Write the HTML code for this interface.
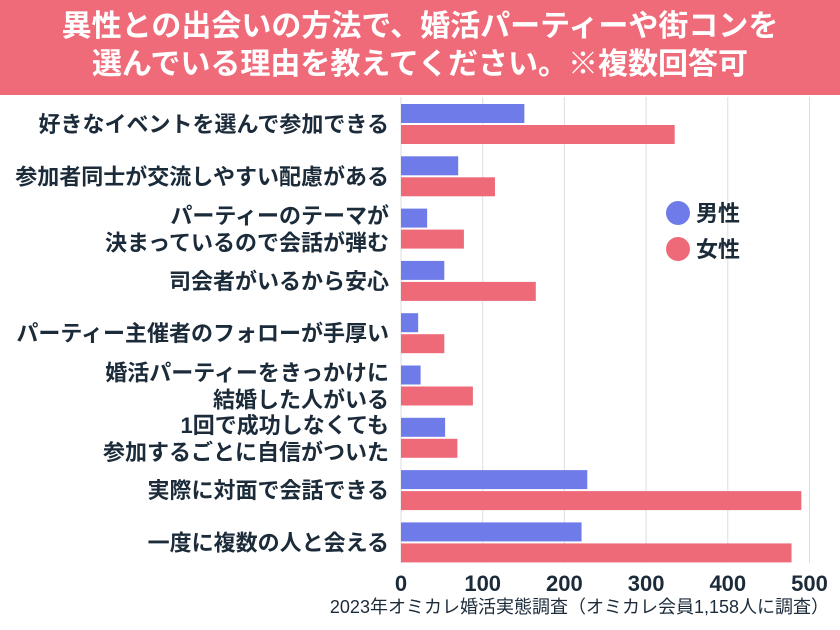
<!DOCTYPE html>
<html><head><meta charset="utf-8"><style>
body{margin:0;width:840px;height:630px;background:#fff;font-family:"Liberation Sans","Noto Sans CJK JP",sans-serif;overflow:hidden}
#title{position:absolute;left:0;top:0;width:840px;height:95px;background:#f06b79;color:#fff;font-weight:bold;font-size:30px;line-height:38px;text-align:center;padding-top:8px;box-sizing:border-box;white-space:nowrap}
svg{position:absolute;left:0;top:0}
</style></head><body>
<div id="title">異性との出会いの方法で、婚活パーティーや街コンを<br>選んでいる理由を教えてください。※複数回答可</div>
<svg id="c" width="840" height="630"></svg>
<script>
const categories=[["好きなイベントを選んで参加できる"],["参加者同士が交流しやすい配慮がある"],["パーティーのテーマが","決まっているので会話が弾む"],["司会者がいるから安心"],["パーティー主催者のフォローが手厚い"],["婚活パーティーをきっかけに","結婚した人がいる"],["1回で成功しなくても","参加するごとに自信がついた"],["実際に対面で会話できる"],["一度に複数の人と会える"]];
const male=[151,70,32,53,21,24,54,228,221];
const female=[335,115,77,165,53,88,69,490,478];
const ticks=[0,100,200,300,400,500];
const NS="http://www.w3.org/2000/svg",svg=document.getElementById('c');
const x=v=>401+v*0.817;
const rowY=i=>104+i*52.3;
function mk(t,a,txt){const e=document.createElementNS(NS,t);for(const k in a)e.setAttribute(k,a[k]);if(txt!=null)e.textContent=txt;svg.appendChild(e);return e;}
ticks.forEach(t=>{
const g=mk('line',{x1:x(t),x2:x(t),y1:97,y2:563,stroke:'#dcdde3','stroke-width':1});


const l=mk('text',{x:x(t),y:591,'text-anchor':'middle','font-size':22,'font-weight':'bold',fill:'#1c2b3a'},t);


});
categories.forEach((c,i)=>{
const y=rowY(i);
const m=mk('rect',{x:x(0),y:y,width:x(male[i])-x(0),height:19,fill:'#6e7be8'});


const f=mk('rect',{x:x(0),y:y+21,width:x(female[i])-x(0),height:19,fill:'#ef6a79'});


const cy=y+20;
c.forEach((line,j)=>{
const ty=c.length==1?cy+8:cy-5+j*27;
const t=mk('text',{x:389,y:ty,'text-anchor':'end','font-size':22,'font-weight':'bold',fill:'#1c2b3a'},line);


});
});
const l1=mk('circle',{cx:678,cy:213,r:12,fill:'#6e7be8'});
const t1=mk('text',{x:696,y:221,'font-size':22,'font-weight':'bold',fill:'#1c2b3a'},'男性');
const l2=mk('circle',{cx:678,cy:249,r:12,fill:'#ef6a79'});
const t2=mk('text',{x:696,y:257,'font-size':22,'font-weight':'bold',fill:'#1c2b3a'},'女性');
const s=mk('text',{x:829,y:613,'text-anchor':'end','font-size':18,fill:'#1c2b3a'},'2023年オミカレ婚活実態調査（オミカレ会員1,158人に調査）');


</script>
</body></html>
